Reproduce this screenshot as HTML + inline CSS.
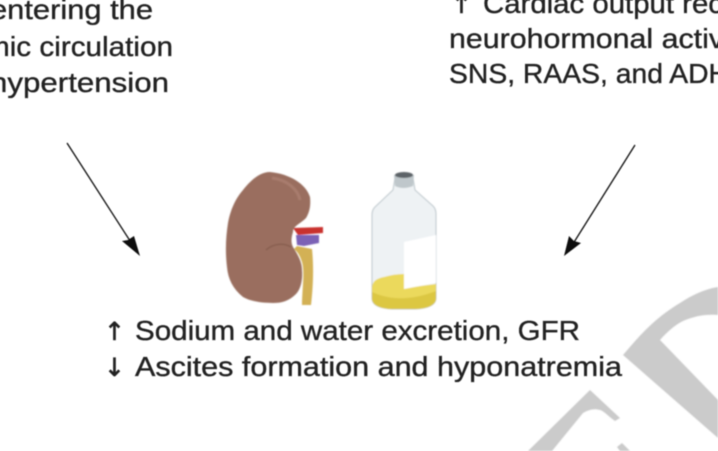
<!DOCTYPE html>
<html><head><meta charset="utf-8"><style>
html,body{margin:0;padding:0;background:#fff;width:718px;height:451px;overflow:hidden}
svg{display:block}
text{font-family:"Liberation Sans",sans-serif;font-size:28px;fill:#222;stroke:#222;stroke-width:.35;filter:url(#t)}
text.a{font-family:"DejaVu Sans",sans-serif;font-size:25px;stroke-width:.6}
</style></head><body>
<svg width="718" height="451" viewBox="0 0 718 451" xmlns="http://www.w3.org/2000/svg">
<defs>
<filter id="t" x="-5%" y="-20%" width="110%" height="140%"><feGaussianBlur stdDeviation="0.6"/></filter>
<filter id="b" x="-10%" y="-10%" width="120%" height="120%"><feGaussianBlur stdDeviation="0.8"/></filter>
<filter id="l" x="-10%" y="-10%" width="120%" height="120%"><feGaussianBlur stdDeviation="0.4"/></filter>
</defs>
<g fill="#cbcbcb" filter="url(#b)">
<path d="M623 355C640 335 655 318 680 303C692 295 705 289 718 287V315C705 314 695 316 683 321C675 325 667 332 660 340L718 400V438Z"/>
<path d="M528 451L590 390L620 418L615 421C608 416 604 411 600 410C594 408 588 410 583 413L552 451Z"/>
<path d="M617 447L622 443L630 451H620Z"/>
</g>
<text x="-10" y="19" textLength="163" lengthAdjust="spacingAndGlyphs">entering the</text>
<text x="-15" y="56" textLength="188" lengthAdjust="spacingAndGlyphs">mic circulation</text>
<text x="-10" y="92" textLength="179" lengthAdjust="spacingAndGlyphs">hypertension</text>
<text class="a" x="451" y="13">↑</text>
<text x="483" y="13" textLength="240" lengthAdjust="spacingAndGlyphs">Cardiac output rec</text>
<text x="449" y="48" textLength="275" lengthAdjust="spacingAndGlyphs">neurohormonal activ</text>
<text x="449" y="83" textLength="280" lengthAdjust="spacingAndGlyphs">SNS, RAAS, and ADH</text>
<g stroke="#111" stroke-width="1.3" fill="#111" filter="url(#l)">
<line x1="67" y1="143" x2="134" y2="247"/>
<path d="M140 256L122 241L128 240L134 236Z" stroke="none"/>
<line x1="635" y1="145" x2="571" y2="247"/>
<path d="M564 256L569 236L574 241L581 243Z" stroke="none"/>
</g>
<g filter="url(#b)">
<path d="M297 246L312 249C314 268 313 288 311 305H302C302 290 305 272 302 262C300 256 298 252 294 249Z" fill="#d3b155"/>
<path d="M296 235H319V243L304 246L297 245Z" fill="#7b62b5"/>
<path d="M293 228L323 227V233L298 235Z" fill="#c9302f"/>
<path d="M270 172C290 174 306 184 310 197C311 207 309 213 306 218C300 224 293 226 293 232C291 238 291 243 293 247C298 255 302 262 302 270C303 281 300 290 296 294C289 301 282 303 273 303C261 303 250 301 243 297C233 289 228 279 227 267C225 250 226 236 228 223C231 207 237 197 243 190C251 180 260 172 270 172Z" fill="#9a6e5f"/>
<path d="M272 178C288 180 298 190 300 200" stroke="#a87c6d" stroke-width="3" fill="none"/>
<path d="M266 250C274 243 284 243 291 247" stroke="#885e50" stroke-width="1.5" fill="none"/>
<path d="M395 178H413L415 190L433 206Q436 209 436 214V298Q436 308 415 309H392Q372 308 372 298V215Q372 210 375 207L393 190Z" fill="#eef2f4" stroke="#bcc6cb" stroke-width="1"/>
<path d="M372 288Q372 279 384 277Q394 274 404 274V288L436 284V298Q436 308 415 309H392Q372 308 372 298Z" fill="#ebd95c"/>
<path d="M372 292Q400 305 436 291V298Q436 308 415 309H392Q372 308 372 298Z" fill="#dcc743"/>
<path d="M404 242L436 235V283L404 289Z" fill="#fff"/>
<path d="M394 175Q403 171 414 175L413 186Q403 190 395 186Z" fill="#bfc7cb"/>
<ellipse cx="404" cy="175" rx="9" ry="3" fill="#5d6468"/>
</g>
<text class="a" x="104" y="340">↑</text>
<text x="135" y="340" textLength="445" lengthAdjust="spacingAndGlyphs">Sodium and water excretion, GFR</text>
<text class="a" x="104" y="376">↓</text>
<text x="135" y="376" textLength="487" lengthAdjust="spacingAndGlyphs">Ascites formation and hyponatremia</text>
</svg>
</body></html>
